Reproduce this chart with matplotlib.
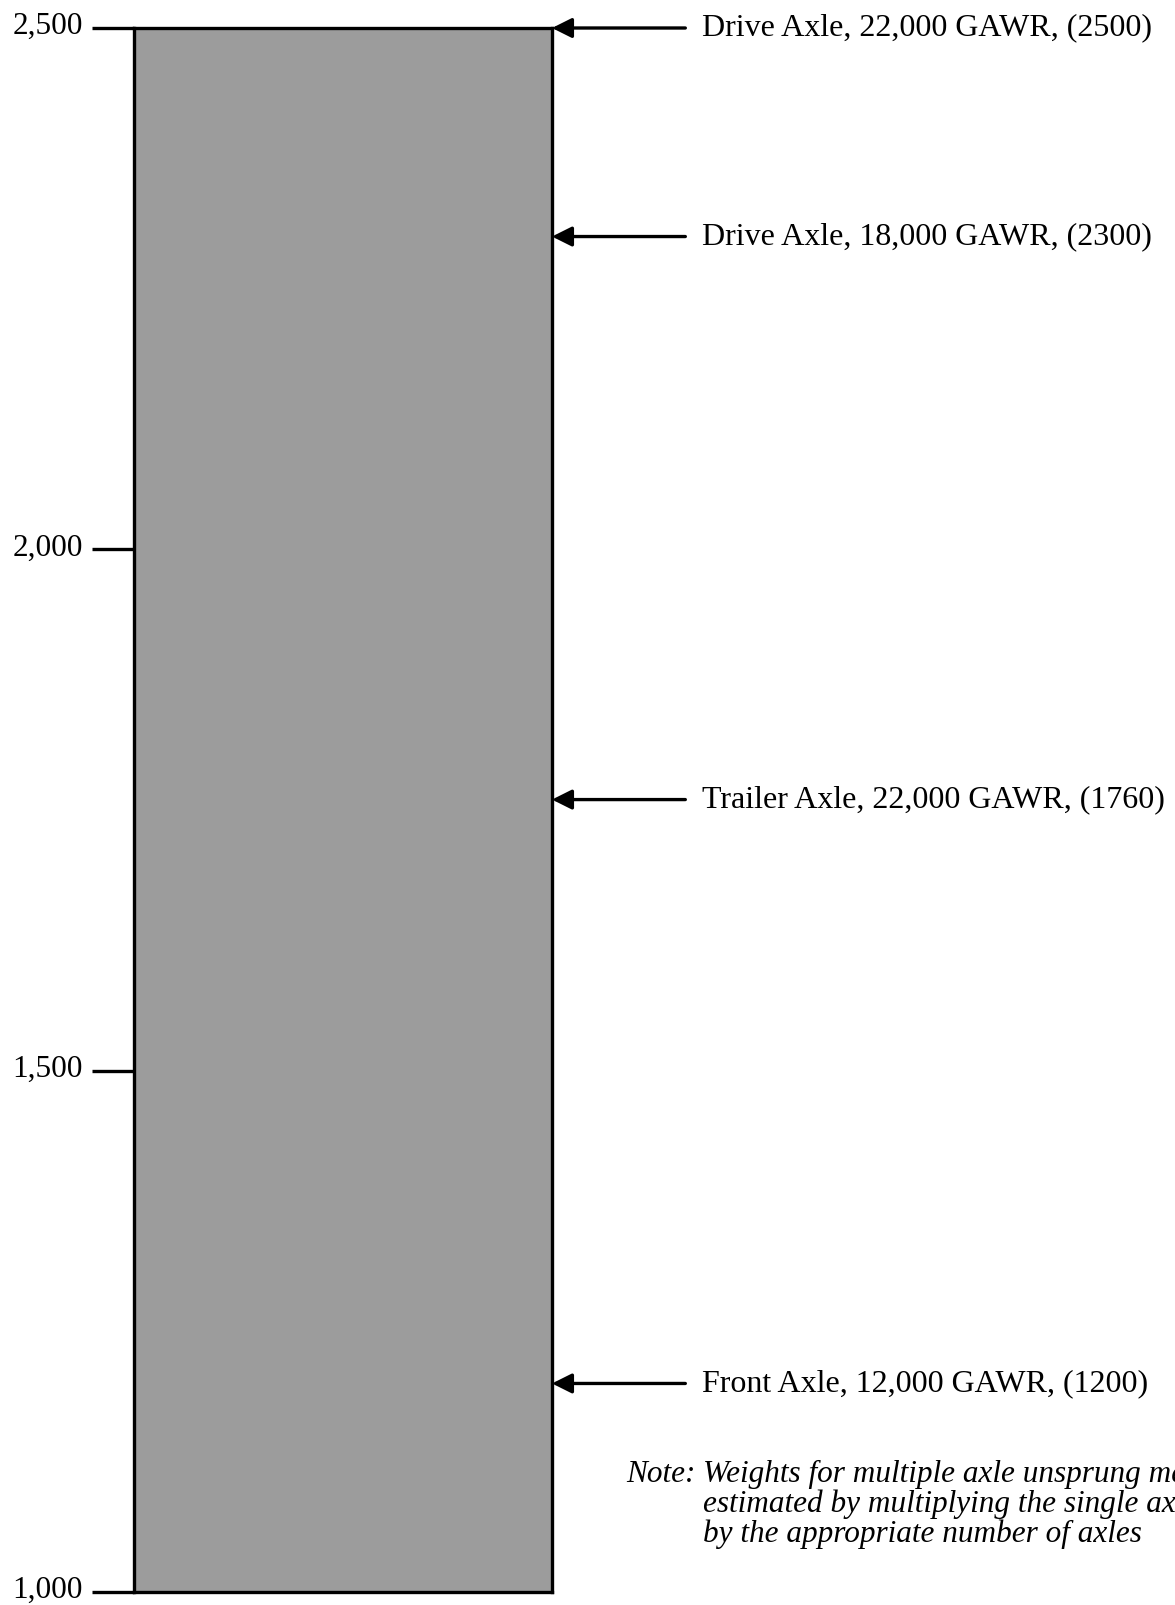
import matplotlib.pyplot as plt
from matplotlib.ticker import FuncFormatter
from matplotlib.transforms import ScaledTranslation

# axle unsprung mass weights (lb)
axle_labels = [
    "Drive Axle, 22,000 GAWR, (2500)",
    "Drive Axle, 18,000 GAWR, (2300)",
    "Trailer Axle, 22,000 GAWR, (1760)",
    "Front Axle, 12,000 GAWR, (1200)",
]
axle_values = [2500, 2300, 1760, 1200]
y_ticks = [1000, 1500, 2000, 2500]
note_lines = [
    "Weights for multiple axle unsprung mass are",
    "estimated by multiplying the single axle weights",
    "by the appropriate number of axles",
]

W, H = 1175, 1605
plt.rcParams['font.family'] = ['Liberation Serif', 'DejaVu Serif']

fig = plt.figure(figsize=(W / 100, H / 100), dpi=100)
fig.patch.set_facecolor('white')

# the shaded column is the plotting area itself
ax = fig.add_axes([134 / W, (H - 1592) / H, (552 - 134) / W, (1592 - 28) / H])
ax.set_facecolor('#9c9c9c')
ax.set_xlim(0, 1)
ax.set_ylim(1000, 2500)
ax.set_xticks([])
ax.set_yticks(y_ticks)
ax.yaxis.set_major_formatter(FuncFormatter(lambda v, p: f"{int(v):,}"))
ax.tick_params(axis='y', direction='out', length=30, width=2.4, pad=7,
               labelsize=22.5, colors='black')
# labels sit a little above their ticks in the original
shift = ScaledTranslation(0, 5 / 100, fig.dpi_scale_trans)
for t in ax.get_yticklabels():
    t.set_transform(t.get_transform() + shift)
for s in ax.spines.values():
    s.set_linewidth(2.4)
    s.set_color('black')

for lab, val in zip(axle_labels, axle_values):
    ax.annotate(lab, xy=(1.0, val), xycoords=('axes fraction', 'data'),
                xytext=(108, 0), textcoords='offset points',
                ha='left', va='center', fontsize=23,
                arrowprops=dict(arrowstyle='-|>', color='black', lw=2.4,
                                mutation_scale=30, shrinkA=10, shrinkB=0),
                annotation_clip=False)

fig.text(626 / W, 1 - 1474 / H, "Note:", style='italic', fontsize=22.5,
         ha='left', va='center')
for i, line in enumerate(note_lines):
    fig.text(703 / W, 1 - (1474 + 30 * i) / H, line, style='italic',
             fontsize=22.5, ha='left', va='center')

fig.savefig('out.png', dpi=100)
